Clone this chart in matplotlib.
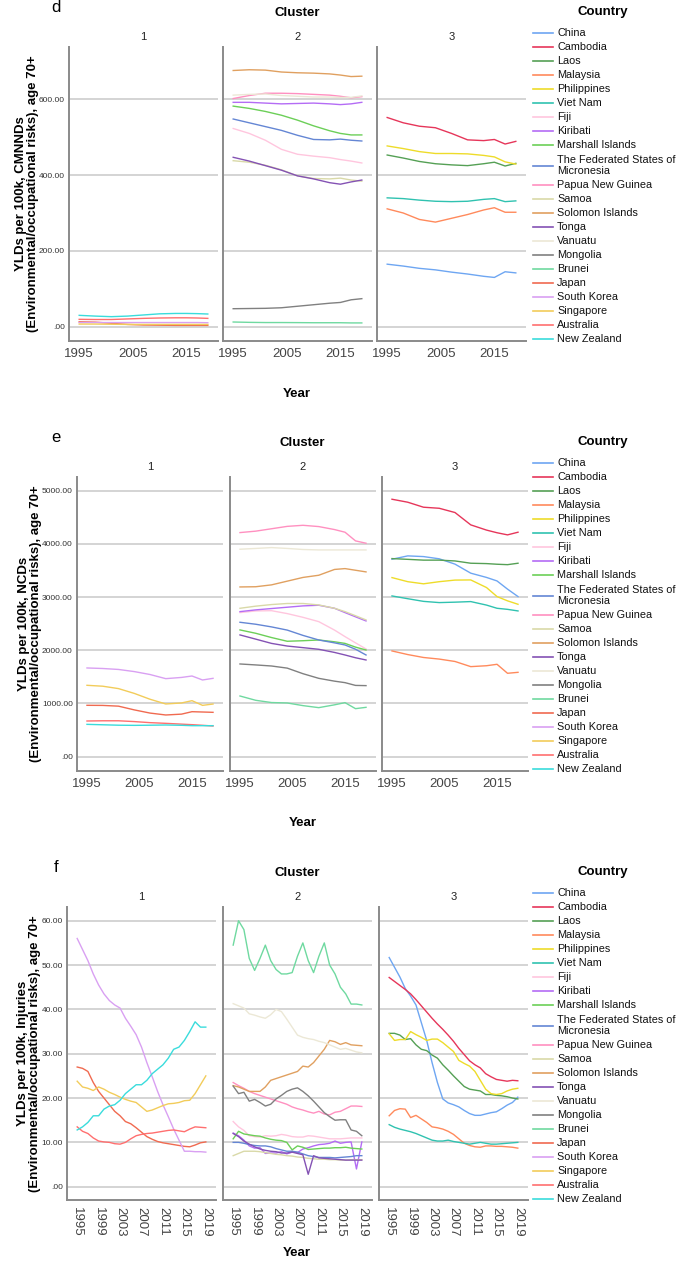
import matplotlib
matplotlib.use('Agg')
import matplotlib.pyplot as plt

plt.rcParams['font.family'] = ['Liberation Sans', 'DejaVu Sans']

W, H = 678, 1263

countries = ['China', 'Cambodia', 'Laos', 'Malaysia', 'Philippines', 'Viet Nam',
             'Fiji', 'Kiribati', 'Marshall Islands', 'The Federated States of\nMicronesia',
             'Papua New Guinea', 'Samoa', 'Solomon Islands', 'Tonga', 'Vanuatu',
             'Mongolia', 'Brunei', 'Japan', 'South Korea', 'Singapore', 'Australia',
             'New Zealand']
colors = ['#6ea6f2', '#e6365a', '#55a055', '#ff8a5c', '#eedc2a', '#30c2b0',
          '#ffc6de', '#b46cf5', '#6ccf58', '#6486d4',
          '#ff90c0', '#d9d9a8', '#e0a060', '#8452b4', '#ece8d6',
          '#808080', '#6fd9a0', '#f06a50', '#d9a0f2', '#f2cc5a', '#ff6f6f',
          '#3adcdc']
FSM = 'The Federated States of\nMicronesia'

cluster1 = ['Japan', 'South Korea', 'Singapore', 'Australia', 'New Zealand']
cluster2 = ['Fiji', 'Kiribati', 'Marshall Islands', FSM, 'Papua New Guinea', 'Samoa',
            'Solomon Islands', 'Tonga', 'Vanuatu', 'Mongolia', 'Brunei']
cluster3 = ['China', 'Cambodia', 'Laos', 'Malaysia', 'Philippines', 'Viet Nam']

years_de = [1995, 1998, 2001, 2004, 2007, 2010, 2013, 2015, 2017, 2019]
years_f = list(range(1995, 2020))

# d: CMNNDs
d_vals = {
    'New Zealand': [30, 28, 26.5, 28, 31, 34, 35, 35, 34.5, 33.5],
    'Australia': [19.5, 19, 19, 20.5, 22, 23, 23.5, 23.5, 23, 22],
    'Japan': [13, 12, 9, 6, 4.5, 4, 3.5, 3.5, 3.5, 3.5],
    'South Korea': [11, 11, 11, 11, 11, 11, 11, 11, 11, 10.5],
    'Singapore': [7, 7, 6.5, 6, 6, 6, 6, 6, 6, 6],
    'Solomon Islands': [676, 678, 677, 672, 670, 669, 667, 664, 660, 661],
    'Vanuatu': [611, 613, 614, 610, 608, 606, 606, 605, 605, 609],
    'Papua New Guinea': [602, 610, 616, 616, 615, 613, 611, 608, 604, 607],
    'Kiribati': [592, 592, 590, 588, 589, 590, 588, 586, 588, 592],
    'Marshall Islands': [582, 576, 568, 558, 545, 530, 517, 510, 506, 506],
    FSM: [548, 538, 528, 518, 505, 494, 493, 495, 492, 490],
    'Fiji': [523, 510, 492, 468, 455, 450, 446, 441, 437, 432],
    'Tonga': [447, 437, 425, 413, 398, 390, 380, 376, 382, 387],
    'Samoa': [438, 434, 426, 414, 398, 391, 390, 392, 387, 384],
    'Mongolia': [47.5, 48, 48.5, 50, 54, 58, 62, 64, 71, 74],
    'Brunei': [12.4, 11.5, 11, 11, 10.8, 10.5, 10.5, 10.5, 10, 10],
    'Cambodia': [552, 538, 529, 525, 510, 493, 491, 494, 482, 489],
    'Philippines': [477, 470, 462, 457, 457, 456, 452, 448, 435, 429],
    'Laos': [453, 445, 436, 430, 427, 425, 430, 434, 424, 431],
    'Viet Nam': [340, 338, 334, 331, 330, 331, 336, 338, 330, 332],
    'Malaysia': [311, 300, 283, 276, 286, 296, 308, 314, 302, 302],
    'China': [165, 160, 154, 150, 144, 139, 133, 130, 145, 142],
}

# e: NCDs
e_vals = {
    'South Korea': [1668, 1658, 1640, 1600, 1545, 1467, 1490, 1517, 1442, 1473],
    'Singapore': [1342, 1325, 1280, 1190, 1080, 991, 1010, 1053, 965, 990],
    'Japan': [966, 964, 950, 880, 820, 784, 800, 846, 840, 834],
    'Australia': [671, 675, 675, 660, 640, 627, 612, 602, 590, 577],
    'New Zealand': [608, 600, 592, 589, 592, 596, 590, 583, 583, 583],
    'Papua New Guinea': [4213, 4240, 4285, 4330, 4350, 4326, 4270, 4220, 4057, 4013],
    'Vanuatu': [3900, 3915, 3931, 3915, 3895, 3887, 3887, 3887, 3887, 3887],
    'Solomon Islands': [3191, 3195, 3230, 3300, 3370, 3411, 3520, 3536, 3505, 3474],
    'Samoa': [2790, 2830, 2860, 2880, 2880, 2853, 2790, 2727, 2650, 2571],
    'Kiribati': [2727, 2760, 2785, 2810, 2835, 2847, 2790, 2709, 2630, 2552],
    'Fiji': [2709, 2740, 2745, 2690, 2620, 2539, 2380, 2257, 2140, 2025],
    FSM: [2527, 2490, 2440, 2380, 2280, 2194, 2140, 2100, 2020, 1912],
    'Marshall Islands': [2383, 2320, 2240, 2170, 2180, 2194, 2160, 2130, 2060, 2006],
    'Tonga': [2289, 2210, 2130, 2080, 2050, 2019, 1960, 1912, 1860, 1818],
    'Mongolia': [1743, 1725, 1705, 1665, 1560, 1473, 1420, 1392, 1340, 1336],
    'Brunei': [1141, 1060, 1018, 1010, 960, 922, 975, 1016, 903, 928],
    'Cambodia': [4840, 4784, 4690, 4670, 4590, 4358, 4260, 4210, 4170, 4220],
    'China': [3712, 3775, 3762, 3720, 3620, 3450, 3370, 3304, 3150, 3010],
    'Laos': [3724, 3710, 3695, 3695, 3680, 3637, 3630, 3618, 3610, 3637],
    'Philippines': [3367, 3290, 3250, 3290, 3320, 3323, 3180, 3010, 2930, 2865],
    'Viet Nam': [3022, 2970, 2920, 2897, 2905, 2916, 2850, 2790, 2770, 2740],
    'Malaysia': [1988, 1920, 1865, 1835, 1790, 1693, 1710, 1737, 1568, 1586],
}

# f: Injuries (annual)
f_vals = {
    'South Korea': [56, 53.5, 51, 48, 45.5, 43.5, 42, 41, 40.3, 38, 36.2, 34.3, 31.5, 28, 24.8,
                    21.5, 18.5, 15.8, 13, 10.5, 8, 8, 7.9, 7.9, 7.8],
    'New Zealand': [12.8, 13.5, 14.5, 16, 16, 17.5, 18.2, 18.5, 19.5, 21, 22, 23, 23, 24, 25.5,
                    26.5, 27.5, 29, 31, 31.5, 33, 35, 37.2, 36, 36],
    'Japan': [27, 26.7, 26, 23.5, 21.5, 20, 18.5, 17, 16, 14.7, 14.2, 13.3, 12.3, 11.3, 10.7,
              10.2, 9.9, 9.7, 9.5, 9.3, 9.1, 9.0, 9.4, 9.9, 10.1],
    'Australia': [13.5, 12.5, 12, 11, 10.3, 10.1, 10, 9.7, 9.6, 10, 10.8, 11.5, 11.8, 12, 12.1,
                  12.3, 12.5, 12.7, 12.8, 12.6, 12.4, 13, 13.5, 13.4, 13.3],
    'Singapore': [23.8, 22.5, 22.2, 21.7, 22.5, 22, 21.3, 20.8, 20.2, 19.7, 19.3, 19, 18, 17, 17.3,
                  17.8, 18.3, 18.7, 18.8, 19, 19.4, 19.5, 21, 23, 25],
    'Brunei': [54.5, 60, 58, 51.5, 48.8, 51.5, 54.5, 51, 49, 48, 48, 48.3, 52, 55, 51,
               48.3, 52, 55, 50, 48, 45, 43.5, 41.2, 41.2, 41],
    'Vanuatu': [41.3, 40.8, 40.3, 39, 38.7, 38.3, 38, 38.8, 40, 39.5, 37.8, 36, 34.2, 33.7, 33.4,
                33.2, 32.8, 32.5, 32, 31.5, 31, 31.2, 30.8, 30.4, 30.2],
    'Solomon Islands': [22.8, 22.5, 22, 21.5, 21.5, 21.5, 22.5, 24, 24.4, 24.8, 25.2, 25.6, 26, 27.2, 27,
                        28, 29.5, 31, 33, 32.7, 32.1, 32.5, 32, 31.9, 31.8],
    'Papua New Guinea': [23.5, 22.8, 22.2, 21.5, 21, 20.6, 20.2, 19.8, 19.4, 19, 18.6, 18, 17.6, 17.3, 16.9,
                         16.6, 17, 16.4, 16.2, 16.8, 17, 17.6, 18.2, 18.2, 18.1],
    'Mongolia': [22.7, 21, 21.3, 19.3, 19.7, 19, 18.2, 18.6, 19.8, 20.6, 21.5, 22, 22.3, 21.5, 20.5,
                 19.3, 18, 16.7, 15.8, 15, 15.1, 15.1, 12.8, 12.5, 11.5],
    'Fiji': [14.7, 13.5, 12.7, 11.5, 11.3, 11.2, 11.5, 11.4, 11.5, 11.8, 11.6, 11.3, 11.2, 11.2, 11.5,
             11.4, 11.2, 11, 10.8, 10.8, 10.8, 10.9, 11, 11, 11],
    'Marshall Islands': [10.8, 12.5, 11.9, 11.7, 11.5, 11.4, 11, 10.7, 10.5, 10.4, 10, 8.3, 9.2, 8.9, 8.4,
                         8.5, 8.6, 8.7, 8.7, 8.8, 8.8, 8.9, 8.7, 8.6, 8.5],
    'Kiribati': [12.1, 11.5, 10.5, 9.2, 8.7, 8.8, 7.5, 7.6, 7.6, 7.9, 7.4, 7.8, 7.7, 8.5, 8.8,
                 9.2, 9.5, 9.6, 9.8, 10.3, 9.8, 10.0, 10.1, 4.0, 10.1],
    'Tonga': [12, 11.3, 10.3, 9.6, 9, 8.5, 8.2, 8, 7.9, 7.6, 7.6, 7.8, 7.5, 7.2, 2.8,
              7, 6.5, 6.4, 6.3, 6.2, 6.1, 6, 6, 6, 6],
    FSM: [10, 10, 9.8, 9.5, 9.3, 9.2, 9.2, 9, 8.6, 8.3, 8, 8, 7.8, 7.4, 7,
          6.8, 6.6, 6.6, 6.6, 6.5, 6.6, 6.7, 6.8, 7, 7],
    'Samoa': [7, 7.5, 8, 8, 8, 7.9, 7.7, 7.5, 7.3, 7.2, 7, 6.9, 6.7, 6.6, 6.4,
              6.3, 6.2, 6.2, 6.1, 6.1, 6, 6, 6.1, 6.1, 6.1],
    'China': [51.7, 49.5, 47.3, 44.7, 43, 41, 37, 33, 28, 23.5, 19.8, 18.9, 18.5, 18, 17.2,
              16.5, 16.1, 16.1, 16.4, 16.7, 16.9, 17.6, 18.4, 19, 20.2],
    'Cambodia': [47.2, 46.3, 45.4, 44.5, 43.5, 42.2, 40.8, 39.4, 38, 36.7, 35.5, 34.2, 32.8, 31.2, 29.8,
                 28.4, 27.5, 26.8, 25.5, 24.8, 24.2, 24, 23.8, 24, 23.9],
    'Philippines': [34.5, 33, 33.2, 33.2, 35, 34.3, 33.7, 33, 33.3, 33.3, 32.5, 31.5, 30.5, 28.5, 27.8,
                    27.2, 26, 24, 22, 21, 20.8, 21, 21.6, 22, 22.2],
    'Laos': [34.6, 34.6, 34.2, 33.2, 33.4, 32, 31, 30.7, 29.7, 29, 27.5, 26.3, 25, 23.8, 22.6,
             22, 21.8, 21.6, 20.8, 20.8, 20.6, 20.5, 20.3, 20, 19.8],
    'Malaysia': [16, 17.2, 17.6, 17.5, 15.6, 16.1, 15.3, 14.5, 13.5, 13.3, 13, 12.5, 11.8, 10.8, 9.8,
                 9.3, 9, 8.9, 9.2, 9.2, 9.1, 9.1, 9, 8.9, 8.7],
    'Viet Nam': [14, 13.4, 13, 12.7, 12.4, 12, 11.5, 11, 10.5, 10.3, 10.3, 10.5, 10.2, 10, 9.8,
                 9.6, 9.8, 10, 9.8, 9.6, 9.6, 9.7, 9.8, 9.9, 10],
}

fig = plt.figure(figsize=(W / 100, H / 100), dpi=100)


def px_axes(left, top, width, height):
    return fig.add_axes([left / W, 1 - (top + height) / H, width / W, height / H])


# overlay in pixel coordinates for the texts and the legends
ov = fig.add_axes([0, 0, 1, 1], zorder=10)
ov.set_xlim(0, W)
ov.set_ylim(H, 0)
ov.axis('off')


def fmt(v):
    s = f'{v:.2f}'
    return s[1:] if s.startswith('0') else s


def draw_panel(letter, vals, years, top, bottom, lefts, width, ylim, yticks,
               xticks, rot, ylabel, ylab_x, dy):
    for i, members in enumerate([cluster1, cluster2, cluster3]):
        ax = px_axes(lefts[i], top, width, bottom - top)
        for name, col in zip(countries, colors):
            if name in members:
                ax.plot(years, vals[name], color=col, lw=1.0, zorder=3)
        ax.set_xlim(1993.1, 2020.9)
        ax.set_ylim(*ylim)
        ax.set_yticks(yticks)
        ax.set_yticklabels([fmt(v) for v in yticks])
        ax.set_xticks(xticks)
        ax.set_xticklabels([str(x) for x in xticks], rotation=rot)
        ax.yaxis.grid(True, color='#cdcdcd', lw=1.2)
        ax.set_axisbelow(True)
        for s in ['top', 'right']:
            ax.spines[s].set_visible(False)
        for s in ['left', 'bottom']:
            ax.spines[s].set_color('#8a8a8a')
            ax.spines[s].set_linewidth(1.4)
        ax.tick_params(axis='y', length=0, labelsize=6, pad=3, labelcolor='#333333',
                       labelleft=(i == 0))
        ax.tick_params(axis='x', length=0, labelsize=9.5, pad=5, labelcolor='#444444')
        ax.set_facecolor('none')
        ov.text(lefts[i] + width / 2, 37 + dy, str(i + 1), ha='center', va='center',
                fontsize=8, color='#222222')
    mid = (lefts[0] + lefts[2] + width) / 2
    ov.text(56, 8 + dy, letter, ha='center', va='center', fontsize=12)
    ov.text(mid, 12.5 + dy, 'Cluster', ha='center', va='center', fontsize=9.5,
            fontweight='bold')
    ov.text(ylab_x, (top + bottom) / 2, ylabel, ha='center', va='center', rotation=90,
            fontsize=9.5, fontweight='bold', multialignment='center', linespacing=0.95)
    # legend
    ov.text(603, 12.5 + dy, 'Country', ha='center', va='center', fontsize=9.5,
            fontweight='bold')
    y = 33 + dy
    for name, col in zip(countries, colors):
        if '\n' in name:
            yc = y + 6.5
            step = 26
        else:
            yc = y
            step = 14
        ov.plot([533, 553], [yc, yc], color=col, lw=1.2)
        ov.text(557, yc, name, ha='left', va='center', fontsize=7.8, color='#111111',
                linespacing=1.2)
        y += step


draw_panel('d', d_vals, years_de, 47, 341, [69, 223, 377], 149, (-37.7, 738),
           [0, 200, 400, 600], [1995, 2005, 2015], 0,
           'YLDs per 100k, CMNNDs\n(Environmental/occupational risks), age 70+', 27, 0)
ov.text(297, 394, 'Year', ha='center', va='center', fontsize=9.5, fontweight='bold')

draw_panel('e', e_vals, years_de, 477, 771, [77, 230, 382], 146, (-269, 5258),
           [0, 1000, 2000, 3000, 4000, 5000], [1995, 2005, 2015], 0,
           'YLDs per 100k, NCDs\n(Environmental/occupational risks), age 70+', 30, 430)
ov.text(303, 823, 'Year', ha='center', va='center', fontsize=9.5, fontweight='bold')

draw_panel('f', f_vals, years_f, 907, 1200, [67, 223, 379], 149, (-3.0, 63.1),
           [0, 10, 20, 30, 40, 50, 60], list(range(1995, 2020, 4)), -90,
           'YLDs per 100k, Injuries\n(Environmental/occupational risks), age 70+', 29, 860)
ov.text(297, 1253, 'Year', ha='center', va='center', fontsize=9.5, fontweight='bold')

fig.savefig('out.png', dpi=100)
